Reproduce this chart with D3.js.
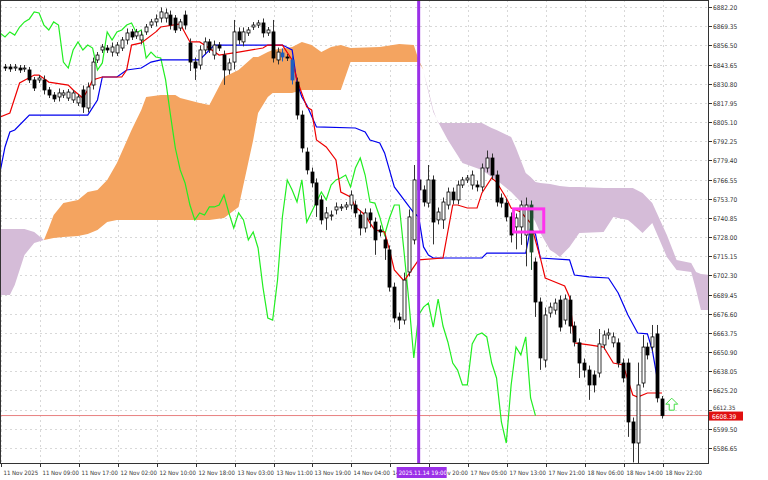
<!DOCTYPE html>
<html><head><meta charset="utf-8">
<script src="https://cdn.jsdelivr.net/npm/d3@7"></script>
<style>body{margin:0;background:#fff}svg{display:block;font-family:"DejaVu Sans Condensed","DejaVu Sans",sans-serif}</style>
</head><body><svg id="c" width="768" height="480"></svg>
<script>
const opens=[6842.0,6842.0,6841.3,6841.3,6840.7,6840.0,6833.3,6833.3,6833.3,6826.6,6823.2,6821.9,6823.2,6821.2,6819.9,6817.9,6826.6,6814.5,6829.9,6846.7,6853.4,6854.7,6852.0,6851.4,6854.7,6860.1,6865.5,6862.8,6860.1,6865.5,6870.1,6872.2,6874.8,6874.8,6876.8,6874.8,6868.1,6876.8,6858.1,6845.3,6843.3,6853.4,6858.8,6850.0,6856.7,6850.0,6840.0,6845.3,6865.5,6858.8,6864.8,6868.8,6870.1,6871.5,6864.8,6865.5,6846.7,6851.4,6848.7,6846.7,6831.9,6809.8,6785.0,6771.6,6764.3,6752.9,6740.8,6742.1,6746.2,6747.5,6748.2,6749.5,6749.5,6742.8,6734.1,6744.2,6738.1,6732.8,6726.1,6719.4,6694.5,6674.4,6672.4,6704.6,6726.1,6766.3,6759.6,6750.8,6766.3,6739.5,6739.5,6749.5,6758.2,6752.9,6762.9,6766.3,6762.9,6762.9,6761.6,6774.3,6781.0,6769.6,6754.2,6750.8,6741.5,6734.8,6734.8,6729.4,6749.5,6711.3,6684.5,6645.6,6677.1,6679.1,6685.8,6672.4,6685.8,6668.4,6657.1,6643.6,6638.9,6635.6,6636.9,6655.7,6662.4,6657.1,6657.1,6643.6,6643.6,6604.1,6590.0,6630.2,6654.3,6654.3,6663.1,6619.5];
const closes=[6841.3,6840.7,6842.0,6840.0,6841.3,6833.3,6827.9,6834.6,6826.6,6823.2,6820.6,6824.6,6824.6,6825.2,6824.6,6821.9,6815.2,6828.6,6845.3,6850.0,6855.4,6853.4,6855.4,6856.7,6860.1,6864.8,6862.1,6865.5,6863.4,6868.8,6872.2,6874.2,6878.9,6878.2,6870.1,6866.8,6872.2,6870.1,6845.3,6841.3,6853.4,6858.8,6853.4,6856.7,6854.7,6840.0,6844.7,6865.5,6860.1,6865.5,6866.8,6870.1,6871.5,6864.8,6866.8,6848.0,6852.0,6848.7,6848.0,6833.3,6809.8,6787.7,6773.0,6764.3,6749.5,6739.5,6744.2,6742.8,6748.2,6748.2,6749.5,6756.2,6744.2,6734.1,6744.2,6739.5,6726.1,6731.4,6720.7,6694.5,6673.8,6672.4,6699.2,6741.5,6766.3,6759.6,6751.5,6766.3,6738.1,6744.8,6751.5,6758.2,6752.9,6762.9,6766.3,6767.6,6769.6,6761.6,6774.3,6781.0,6769.6,6751.5,6750.8,6741.5,6729.4,6740.8,6749.5,6749.5,6718.0,6684.5,6647.0,6675.8,6681.1,6683.8,6667.7,6686.5,6668.4,6657.7,6643.6,6638.9,6628.9,6628.9,6656.4,6662.4,6663.7,6661.1,6643.6,6633.6,6604.1,6590.0,6628.9,6654.3,6649.0,6661.1,6620.2,6608.4];
const wickHi=[2,2,2,2,2,2,2,2,3,2,2,3,2,2,2,2,3,3,3,2,2,2,3,2,2,3,2,2,3,2,2,3,3,3,3,2,2,3,3,3,3,3,2,3,2,3,3,8,3,3,2,2,2,3,2,8,3,3,2,3,3,3,3,3,3,3,4,3,3,2,2,3,3,3,3,3,3,3,3,3,3,3,5,5,10,3,3,10,3,3,3,3,3,3,2,2,3,3,3,5,3,3,3,3,3,3,3,5,3,3,3,5,3,3,3,3,3,3,3,3,3,3,10,3,3,3,3,3,3,3,15,8,3,8,6,2];
const wickLo=[2,2,2,2,2,2,2,2,3,2,2,3,2,2,2,2,4,3,3,2,2,2,3,2,2,3,2,2,3,2,2,3,3,3,3,2,2,3,6,8,3,3,2,3,2,10,3,5,3,3,2,2,2,3,2,3,3,3,2,3,3,3,3,3,8,3,8,3,3,2,2,3,3,5,3,5,10,3,8,3,3,6,3,3,3,3,3,3,15,3,6,3,3,3,2,2,3,3,3,3,3,3,3,3,5,15,12,21,12,10,8,5,3,3,3,3,5,3,10,5,10,5,3,3,3,3,3,3,10,13,14,3,3,3,3,2];
const specialColor={57:"#1f5fbf",59:"#1f5fbf",108:"#1f4f2f"};

const tenkanIdx=[-1,1,3,6,7,9,13,14,16,17,18,20,24,25,26,28,31,32,36,37,38,40,41,44,48,53,54,57,59,60,62,63,64,66,68,69,71,72,74,75,76,78,79,80,82,84,85,90,92,93,95,97,98,100,101,103,104,106,108,110,111,112,115,116,117,120,123,125,127,129,130,132,135];
const tenkanVal=[6808.5,6811.2,6831.3,6836.6,6836.6,6831.9,6829.9,6826.6,6821.2,6826.6,6833.3,6835.3,6835.3,6840.0,6856.7,6858.1,6865.5,6868.8,6870.8,6864.8,6858.8,6858.8,6856.7,6850.0,6852.0,6854.7,6856.7,6856.7,6846.7,6833.3,6815.2,6813.2,6793.1,6788.4,6779.7,6758.2,6754.9,6748.2,6742.8,6737.4,6732.8,6731.4,6719.4,6706.0,6698.6,6708.0,6712.7,6714.0,6749.5,6749.5,6747.5,6747.5,6757.6,6767.6,6764.9,6754.2,6747.5,6744.8,6737.4,6714.0,6700.6,6699.2,6695.2,6687.9,6657.1,6655.7,6654.3,6643.6,6642.3,6622.2,6620.8,6623.5,6623.5];
const kijunIdx=[-1,0,1,2,5,17,19,20,23,25,28,30,32,40,43,57,59,60,61,62,64,72,74,75,77,78,80,82,84,85,86,87,88,98,99,107,108,109,110,116,117,120,124,126,128,130,132,133,134];
const kijunVal=[6772.0,6788.4,6798.4,6799.8,6809.8,6809.8,6819.9,6835.3,6835.3,6840.0,6841.3,6845.3,6846.7,6846.7,6856.7,6856.7,6853.4,6831.3,6821.9,6816.5,6801.8,6801.1,6798.4,6793.1,6791.1,6784.4,6761.6,6752.9,6744.2,6741.5,6721.4,6716.0,6714.0,6714.0,6717.3,6717.3,6734.1,6730.0,6714.0,6712.7,6702.6,6701.3,6700.6,6690.5,6675.8,6663.7,6663.1,6652.4,6633.6];

const cloudLIdx=[-1,1,2,4,6,8];
const cloudLTop=[6733.4,6733.4,6733.4,6733.4,6731.4,6726.1];
const cloudLBot=[6689.2,6689.2,6695.9,6716.0,6724.0,6726.1];
const cloudOIdx=[8,9,10,12,15,17,19,21,23,26,28,29,32,35,36,40,42,45,48,51,52,54,55,59,61,63,65,67,69,71,77,81,84,85,86];
const cloudOTop=[6726.1,6734.1,6742.8,6750.8,6752.9,6758.2,6759.6,6766.3,6777.7,6799.8,6813.2,6821.9,6823.2,6823.2,6821.2,6817.9,6816.5,6835.3,6840.0,6848.7,6848.7,6852.0,6853.4,6855.4,6858.8,6856.7,6852.0,6855.4,6856.7,6854.7,6855.4,6857.4,6856.7,6846.7,6840.0];
const cloudOBot=[6726.1,6726.7,6727.4,6728.1,6728.7,6730.1,6732.8,6738.1,6739.5,6739.5,6739.5,6739.5,6739.5,6739.5,6739.5,6739.5,6739.5,6740.8,6748.2,6793.1,6811.2,6821.9,6824.6,6824.6,6826.6,6826.6,6826.6,6826.6,6826.6,6845.3,6845.3,6845.3,6845.3,6845.3,6840.0];
const cloudRIdx=[86,87,88,89,91,94,98,100,101,104,105,107,108,109,110,112,113,114,116,117,118,123,125,128,129,131,132,133,136,138,141,142,143,145];
const cloudRTop=[6838.6,6826.6,6813.2,6804.5,6804.5,6804.5,6804.5,6801.1,6799.8,6795.1,6787.7,6770.9,6768.3,6764.9,6764.3,6763.6,6762.9,6762.2,6761.6,6761.6,6761.6,6760.9,6760.9,6760.9,6760.9,6757.6,6754.2,6750.8,6729.4,6712.7,6710.6,6704.6,6703.3,6702.6];
const cloudRBot=[6838.6,6825.2,6811.8,6805.1,6793.1,6777.7,6773.0,6768.3,6766.3,6758.2,6754.9,6748.2,6744.2,6738.1,6730.7,6719.4,6717.3,6714.7,6721.4,6726.1,6730.7,6731.4,6741.5,6739.5,6736.8,6730.7,6734.1,6737.4,6714.7,6706.0,6704.6,6692.5,6679.1,6679.1];

const priceTicks=[6882.20,6869.35,6856.50,6843.65,6830.80,6817.95,6805.10,6792.25,6779.40,6766.55,6753.70,6740.85,6728.00,6715.15,6702.30,6689.45,6676.60,6663.75,6650.90,6638.05,6625.20,6612.35,6599.50,6586.65];
const timeTickIdx=[0,8,16,24,32,40,48,56,64,72,80,88,96,104,112,120,128,136];
const timeTickLabels=["11 Nov 2025","11 Nov 09:00","11 Nov 17:00","12 Nov 02:00","12 Nov 10:00","12 Nov 18:00","13 Nov 03:00","13 Nov 11:00","13 Nov 19:00","14 Nov 04:00","14 Nov 12:00","14 Nov 20:00","17 Nov 05:00","17 Nov 13:00","17 Nov 21:00","18 Nov 06:00","18 Nov 14:00","18 Nov 22:00"];
const lastPrice=6608.39, markIdx=85, markLabel="2025.11.14 19:00";
const boxIdx=[104.5,110.7], boxPrice=[6746.9,6731.4];
const arrowIdx=137, arrowPrice=6612;

const svg=d3.select("#c");
const W=708,H=463;
const x=d3.scaleLinear().domain([0,135]).range([5,662]);
const y=d3.scaleLinear().domain([6586.65,6882.2]).range([448,7]);
svg.append("defs").append("clipPath").attr("id","cp").append("rect").attr("x",1).attr("y",1).attr("width",W-1).attr("height",H-1);
const g=svg.append("g").attr("clip-path","url(#cp)");
g.selectAll(".gh").data(priceTicks).join("line").attr("x1",0).attr("x2",W).attr("y1",d=>Math.round(y(d))+.5).attr("y2",d=>Math.round(y(d))+.5).attr("stroke","#d8d8d8").attr("stroke-dasharray","2,3");
g.selectAll(".gv").data(timeTickIdx).join("line").attr("y1",0).attr("y2",H).attr("x1",d=>Math.round(x(d)-4)+.5).attr("x2",d=>Math.round(x(d)-4)+.5).attr("stroke","#d8d8d8").attr("stroke-dasharray","2,3");
function cloud(idx,top,bot,col){
  const pts=idx.map((d,i)=>({i:d,t:top[i],b:bot[i]}));
  g.append("path").datum(pts).attr("fill",col).attr("d",d3.area().x(d=>x(d.i)).y0(d=>y(d.b)).y1(d=>y(d.t)));
}
cloud(cloudLIdx,cloudLTop,cloudLBot,"#d5bcd8");
cloud(cloudOIdx,cloudOTop,cloudOBot,"#f4a460");
cloud(cloudRIdx,cloudRTop,cloudRBot,"#d5bcd8");
g.append("line").attr("x1",0).attr("x2",W).attr("y1",y(lastPrice)).attr("y2",y(lastPrice)).attr("stroke","#e88080").attr("stroke-width",1);
const line=d3.line().x(d=>x(d[0])).y(d=>y(d[1]));
const chikou=closes.map((c,i)=>[i-26,c]).filter(d=>d[0]>=-1);
g.append("path").datum(chikou).attr("fill","none").attr("stroke","#22ee22").attr("stroke-width",1.2).attr("d",line);
g.append("path").datum(kijunIdx.map((d,i)=>[d,kijunVal[i]])).attr("fill","none").attr("stroke","#0000ee").attr("stroke-width",1.2).attr("d",line);
g.append("path").datum(tenkanIdx.map((d,i)=>[d,tenkanVal[i]])).attr("fill","none").attr("stroke","#ee0000").attr("stroke-width",1.2).attr("d",line);
const cg=g.append("g");
opens.forEach((o,i)=>{
  const c=closes[i],hi=Math.max(o,c)+wickHi[i],lo=Math.min(o,c)-wickLo[i];
  const cx=Math.round(x(i))+.5;
  const col=specialColor[i]||"#000";
  cg.append("line").attr("x1",cx).attr("x2",cx).attr("y1",y(hi)).attr("y2",y(lo)).attr("stroke",specialColor[i]?col:"#333");
  const top=y(Math.max(o,c)),bot=y(Math.min(o,c));
  cg.append("rect").attr("x",cx-1.5).attr("width",3).attr("y",top).attr("height",Math.max(1,bot-top))
    .attr("fill",c>=o?"#fff":col).attr("stroke",c>=o?"#000":col).attr("stroke-width",0.8);
});
g.append("line").attr("x1",x(markIdx)).attr("x2",x(markIdx)).attr("y1",0).attr("y2",H).attr("stroke","#9b30e8").attr("stroke-width",3);
g.append("rect").attr("x",x(boxIdx[0])).attr("width",x(boxIdx[1])-x(boxIdx[0])).attr("y",y(boxPrice[0])).attr("height",y(boxPrice[1])-y(boxPrice[0])).attr("fill","none").attr("stroke","#ff33ee").attr("stroke-width",3);
const ax=x(arrowIdx),ay=y(arrowPrice);
g.append("path").attr("d",`M${ax},${ay-12} L${ax+6},${ay-6} L${ax+2.5},${ay-6} L${ax+2.5},${ay} L${ax-2.5},${ay} L${ax-2.5},${ay-6} L${ax-6},${ay-6} Z`).attr("fill","#fff").attr("stroke","#44dd44").attr("stroke-width",1);
svg.append("rect").attr("x",0.5).attr("y",0.5).attr("width",W).attr("height",H).attr("fill","none").attr("stroke","#333");
priceTicks.forEach(p=>{
  const yy=Math.round(y(p))+.5;
  svg.append("line").attr("x1",W).attr("x2",W+4).attr("y1",yy).attr("y2",yy).attr("stroke","#333");
  if(Math.abs(y(p)-y(lastPrice))>8)
    svg.append("text").attr("x",W+5).attr("y",yy+2.5).attr("font-size",6.5).attr("fill","#333").text(p.toFixed(2));
  else
    svg.append("text").attr("x",W+5).attr("y",yy-1).attr("font-size",6).attr("fill","#333").text(p.toFixed(2));
});
svg.append("rect").attr("x",W+1).attr("y",y(lastPrice)-4).attr("width",34).attr("height",9).attr("fill","#e01010");
svg.append("text").attr("x",W+4).attr("y",y(lastPrice)+3).attr("font-size",6.5).attr("fill","#fff").text(lastPrice.toFixed(2));
timeTickIdx.forEach((t,i)=>{
  const xx=Math.round(x(t)-4)+.5;
  svg.append("line").attr("x1",xx).attr("x2",xx).attr("y1",H).attr("y2",H+4).attr("stroke","#333");
  svg.append("text").attr("x",xx+2).attr("y",H+12).attr("font-size",6).attr("fill","#333").text(timeTickLabels[i]);
});
svg.append("rect").attr("x",x(markIdx)-22).attr("y",H+4).attr("width",50).attr("height",11).attr("fill","#9b30e8");
svg.append("text").attr("x",x(markIdx)-20).attr("y",H+12).attr("font-size",6).attr("fill","#fff").text(markLabel);
</script></body></html>
